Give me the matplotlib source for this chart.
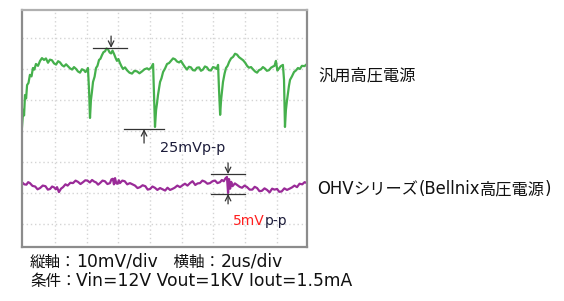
import matplotlib
matplotlib.use("Agg")
import matplotlib.pyplot as plt

plt.rcParams['font.family'] = ['DejaVu Sans', 'Noto Sans CJK JP']

# Green trace: general-purpose HV supply (time in us, ripple in mV)
green_t = [-0.08, 0.00, 0.05, 0.11, 0.18, 0.24, 0.33, 0.42, 0.52, 0.61, 0.70, 0.80, 0.93, 1.06,
           1.18, 1.31, 1.43, 1.56, 1.68, 1.81, 1.94, 2.07, 2.20, 2.32, 2.45, 2.57, 2.70, 2.82,
           2.95, 3.08, 3.20, 3.33, 3.45, 3.58, 3.70, 3.83, 3.92, 4.02, 4.08, 4.15, 4.21, 4.27,
           4.33, 4.40, 4.50, 4.59, 4.68, 4.78, 4.87, 4.97, 5.06, 5.16, 5.25, 5.35, 5.45, 5.54,
           5.63, 5.73, 5.82, 5.91, 6.00, 6.10, 6.20, 6.29, 6.42, 6.54, 6.70, 6.86, 7.02, 7.18,
           7.33, 7.49, 7.65, 7.81, 7.93, 8.06, 8.19, 8.25, 8.31, 8.38, 8.44, 8.50, 8.57, 8.63,
           8.72, 8.82, 8.95, 9.07, 9.20, 9.32, 9.45, 9.58, 9.70, 9.83, 9.95, 10.08, 10.20,
           10.33, 10.45, 10.58, 10.70, 10.83, 10.96, 11.09, 11.21, 11.34, 11.46, 11.59, 11.71,
           11.84, 11.97, 12.10, 12.20, 12.29, 12.35, 12.42, 12.48, 12.54, 12.60, 12.70, 12.79,
           12.89, 12.99, 13.11, 13.24, 13.36, 13.49, 13.61, 13.74, 13.87, 14.00, 14.12, 14.24,
           14.37, 14.49, 14.62, 14.75, 14.87, 15.00, 15.12, 15.25, 15.37, 15.50, 15.63, 15.76,
           15.85, 15.94, 16.03, 16.13, 16.25, 16.38, 16.45, 16.51, 16.57, 16.63, 16.70, 16.76,
           16.83, 16.95, 17.08, 17.20, 17.33, 17.45, 17.58, 17.74, 17.90]
green_mv = [1.3, 6.8, 5.0, 11.6, 10.5, 14.8, 15.5, 18.1, 17.6, 20.3, 19.8, 21.6, 21.0, 22.6,
            23.5, 22.9, 23.4, 22.0, 23.0, 22.8, 21.8, 21.4, 22.5, 22.1, 21.2, 20.8, 21.5, 20.9,
            20.2, 19.8, 20.6, 20.0, 19.2, 18.8, 19.9, 19.6, 19.0, 19.5, 20.3, 13.2, 4.2, 10.0,
            12.5, 15.8, 17.5, 20.3, 21.0, 22.9, 23.3, 24.5, 25.4, 25.7, 26.6, 26.3, 25.3, 25.0,
            25.9, 24.8, 23.6, 22.6, 23.2, 21.9, 20.8, 20.0, 20.5, 19.6, 18.8, 18.5, 19.4, 19.2,
            18.6, 19.2, 19.9, 20.2, 19.8, 20.4, 21.6, 11.6, 1.3, 6.8, 9.0, 11.6, 13.8, 15.8,
            17.0, 19.0, 20.2, 21.6, 21.9, 22.6, 23.4, 23.1, 22.4, 22.1, 22.6, 21.5, 20.6,
            19.8, 20.7, 20.5, 19.6, 19.5, 20.4, 20.5, 19.4, 19.8, 20.8, 20.5, 19.6,
            19.5, 20.6, 20.4, 20.0, 21.3, 13.2, 5.2, 10.0, 13.0, 15.8, 18.5, 20.3,
            21.0, 22.3, 23.4, 23.9, 24.9, 24.6, 23.8, 23.3, 22.8, 22.0, 21.0, 20.4,
            20.6, 19.9, 19.2, 18.8, 19.6, 19.9, 20.6, 20.1, 19.4, 19.6, 20.4, 20.8,
            21.0, 22.6, 19.5, 20.1, 20.9, 21.3, 16.5, 1.3, 6.8, 9.5, 12.3, 14.5,
            16.5, 17.6, 19.0, 19.5, 20.3, 20.0, 21.0, 20.9, 21.6]

# Purple trace: OHV series (Bellnix HV supply)
purple_t = [-0.08, 0.06, 0.20, 0.31, 0.42, 0.58, 0.75, 0.90, 1.06, 1.23, 1.40, 1.55, 1.69, 1.82,
            1.95, 2.05, 2.13, 2.25, 2.38, 2.51, 2.66, 2.80, 2.97, 3.14, 3.30, 3.45, 3.61, 3.77,
            3.91, 4.05, 4.20, 4.34, 4.47, 4.60, 4.72, 4.84, 5.00, 5.15, 5.31, 5.47, 5.56, 5.65,
            5.72, 5.79, 5.87, 5.95, 6.03, 6.10, 6.25, 6.40, 6.56, 6.73, 6.89, 7.05, 7.21, 7.37,
            7.53, 7.70, 7.85, 8.00, 8.15, 8.30, 8.46, 8.63, 8.79, 8.95, 9.10, 9.26, 9.40, 9.55,
            9.72, 9.89, 10.05, 10.20, 10.36, 10.52, 10.68, 10.85, 11.00, 11.15, 11.30, 11.45,
            11.62, 11.78, 11.94, 12.10, 12.25, 12.41, 12.53, 12.65, 12.75, 12.85, 12.92, 12.98,
            13.05, 13.12, 13.20, 13.35, 13.49, 13.65, 13.80, 13.96, 14.12, 14.28, 14.45, 14.60,
            14.75, 14.90, 15.05, 15.22, 15.38, 15.54, 15.70, 15.85, 16.01, 16.15, 16.30, 16.47,
            16.64, 16.80, 16.95, 17.11, 17.27, 17.43, 17.60, 17.75, 17.90]
purple_mv = [-16.5, -17.2, -17.3, -16.5, -16.8, -17.7, -17.9, -18.8, -18.4, -17.6, -17.8, -18.9,
             -18.7, -17.9, -18.2, -18.8, -18.1, -19.7, -18.6, -18.1, -17.2, -17.6, -16.7, -16.8,
             -16.0, -16.4, -17.1, -16.5, -15.9, -16.0, -16.6, -15.8, -16.3, -16.6, -17.3, -16.8,
             -16.0, -16.2, -17.1, -16.8, -15.6, -15.4, -17.2, -15.2, -16.9, -17.0, -15.9, -16.8,
             -16.0, -16.2, -17.2, -16.8, -17.2, -17.6, -18.4, -18.1, -17.5, -17.8, -18.9, -18.7,
             -17.9, -18.3, -19.0, -18.4, -18.8, -19.2, -18.3, -19.0, -18.7, -18.3, -17.6, -18.1,
             -17.5, -17.0, -17.6, -16.8, -16.2, -17.4, -16.9, -16.8, -16.0, -16.3, -17.0, -16.8,
             -16.2, -16.0, -16.8, -16.5, -15.8, -16.2, -15.3, -14.8, -20.0, -15.5, -18.6, -16.4,
             -17.8, -16.9, -17.4, -18.0, -18.3, -17.6, -18.1, -18.9, -18.9, -18.0, -18.4, -19.4,
             -19.3, -18.5, -19.0, -19.8, -18.6, -18.9, -18.7, -19.6, -19.5, -18.5, -19.0, -18.6,
             -18.2, -17.6, -18.1, -17.0, -17.2, -16.5, -16.8]

green_label = "汎用高圧電源"
purple_label = "OHVシリーズ(Bellnix高圧電源)"
green_pp = "25mVp-p"
purple_pp_value = "5mV"
pp_suffix = "p-p"
axis_note = "縦軸：10mV/div　横軸：2us/div"
cond_note = "条件：Vin=12V Vout=1KV Iout=1.5mA"

W, H = 564, 301
fig = plt.figure(figsize=(W / 100, H / 100), dpi=100)
ax = fig.add_axes([22 / W, 1 - 247 / H, 285 / W, 237 / H])
ax.set_xlim(-0.08, 17.9)
ax.set_ylim(-37.4, 39.0)
ax.set_xticks([2, 4, 6, 8, 10, 12, 14, 16])
ax.set_yticks([-30, -20, -10, 0, 10, 20, 30])
ax.grid(True, color='#d4d4d4', linestyle=(0, (1, 2)), linewidth=1.0)
ax.tick_params(length=0, labelbottom=False, labelleft=False)
for s in ax.spines.values():
    s.set_color('#8c8c8c')
    s.set_linewidth(1.6)
ax.spines['top'].set_color('#b0b0b0')

ax.plot(green_t, green_mv, color='#45b04c', lw=1.6, solid_joinstyle='round')
ax.plot(purple_t, purple_mv, color='#9a2b98', lw=1.6, solid_joinstyle='round')

mk = '#333333'
# green p-p markers
ax.plot([4.40, 6.54], [26.8, 26.8], color=mk, lw=0.9)
ax.annotate('', xy=(5.54, 26.8), xytext=(5.54, 30.6),
            arrowprops=dict(arrowstyle='->', color=mk, lw=0.9, shrinkA=0, shrinkB=0))
ax.plot([6.35, 8.88], [0.6, 0.6], color=mk, lw=0.9)
ax.annotate('', xy=(7.62, 0.6), xytext=(7.62, -3.9),
            arrowprops=dict(arrowstyle='->', color=mk, lw=0.9, shrinkA=0, shrinkB=0))
# purple p-p markers
ax.plot([11.84, 13.99], [-13.9, -13.9], color=mk, lw=0.9)
ax.annotate('', xy=(12.92, -13.9), xytext=(12.92, -10.3),
            arrowprops=dict(arrowstyle='->', color=mk, lw=0.9, shrinkA=0, shrinkB=0))
ax.plot([11.84, 13.99], [-20.3, -20.3], color=mk, lw=0.9)
ax.annotate('', xy=(12.92, -20.3), xytext=(12.92, -23.5),
            arrowprops=dict(arrowstyle='->', color=mk, lw=0.9, shrinkA=0, shrinkB=0))


def fx(px):
    return px / W


def fy(py):
    return 1 - py / H


renderer = fig.canvas.get_renderer()


def mixed_text(px, py_base, s, latin_size, cjk_size, color='#111111'):
    """Latin runs in DejaVu Sans, CJK runs in Noto Sans CJK JP, on one baseline."""
    runs = []
    for ch in s:
        kind = ch.isascii()
        if runs and runs[-1][0] == kind:
            runs[-1][1] += ch
        else:
            runs.append([kind, ch])
    x = px
    for kind, txt in runs:
        if kind:
            t = fig.text(fx(x), fy(py_base), txt, fontsize=latin_size,
                         family=['DejaVu Sans'], color=color, va='baseline', ha='left')
        else:
            t = fig.text(fx(x), fy(py_base), txt, fontsize=cjk_size,
                         family=['Noto Sans CJK JP', 'DejaVu Sans'], color=color,
                         va='baseline', ha='left')
        bb = t.get_window_extent(renderer=renderer)
        x += bb.width
    return x


mixed_text(160, 152, green_pp, 10.4, 10.4, color='#1c1c3a')

# "5mV" in red followed by "p-p" in dark
red = fig.text(fx(233), fy(225), purple_pp_value, fontsize=10.0, family=['DejaVu Sans'],
               color='#ff2020', va='baseline', ha='left')
rb = red.get_window_extent(renderer=renderer)
fig.text((rb.x1 + 0.2) / W, fy(225), pp_suffix, fontsize=10.0, family=['DejaVu Sans'],
         color='#1c1c3a', va='baseline', ha='left')

mixed_text(318, 80, green_label, 11.9, 11.7)
mixed_text(317, 194, purple_label, 11.9, 11.7)
mixed_text(30, 267, axis_note, 12.3, 11.2)
mixed_text(30, 286, cond_note, 12.3, 11.2)

fig.savefig('out.png', dpi=100, facecolor='white')
